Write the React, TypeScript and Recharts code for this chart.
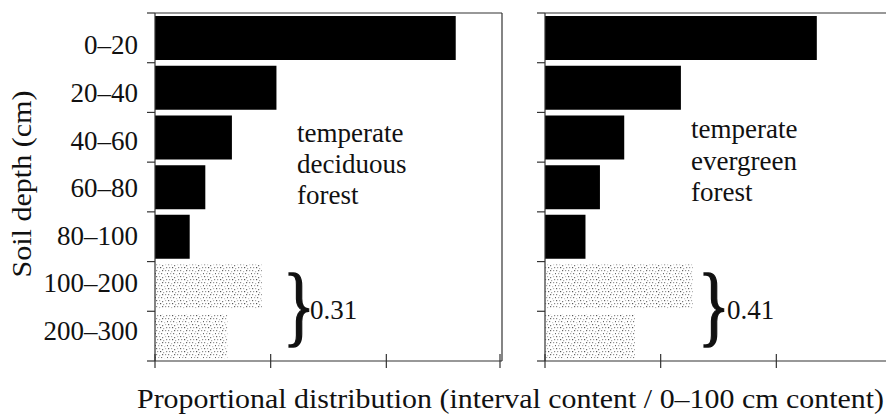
import { BarChart, Bar, Cell, XAxis, YAxis } from 'recharts';

// Soil depth intervals, top to bottom
const depths = ['0–20', '20–40', '40–60', '60–80', '80–100', '100–200', '200–300'];
// Share of the 0–100 cm content held in each interval
const deciduous = [0.52, 0.21, 0.133, 0.087, 0.06, 0.185, 0.125];
const evergreen = [0.47, 0.235, 0.137, 0.095, 0.07, 0.255, 0.155];
const xTicks = [0, 0.2, 0.4, 0.6];
// Intervals from this index down lie below 1 m and are stippled
const SUBSOIL_FROM = 5;

const FONT = '"Liberation Serif", "Times New Roman", serif';
const INK = '#111';
const AXIS = '#333';
const CHART_H = 370;
const PLOT_W = 347;
// the outer axes take 1px each on top/right, the bottom axis takes 9px
const MARGIN = { top: 12, right: 7, bottom: 0, left: 0 };
const BAND = (CHART_H - 13 - 9) / depths.length;

const sum = (xs: number[]) => xs.reduce((a, b) => a + b, 0);
const subsoilShare = (xs: number[]) => sum(xs.slice(SUBSOIL_FROM)).toFixed(2);

// hand-placed stipple dots for the sub-metre intervals
const STIPPLE = [
  [0, 0, '#666'], [3, 0, '#aaa'], [6, 1, '#777'], [9, 0, '#bbb'],
  [1, 3, '#999'], [4, 3, '#555'], [7, 4, '#aaa'], [10, 3, '#888'],
  [0, 6, '#888'], [3, 7, '#bbb'], [6, 6, '#666'], [9, 6, '#999'],
  [2, 9, '#aaa'], [5, 9, '#777'], [8, 10, '#ccc'], [11, 9, '#666'],
] as const;

function DepthTick(props: any) {
  const { x, y, payload, index, showLabel } = props;
  const half = BAND / 2;
  const last = index === depths.length - 1;
  return (
    <g>
      <line x1={x - 8} x2={x} y1={y - half} y2={y - half} stroke={AXIS} strokeWidth={1.2} />
      {last && <line x1={x - 8} x2={x} y1={y + half} y2={y + half} stroke={AXIS} strokeWidth={1.2} />}
      {showLabel && (
        // labels sit on a slightly tighter pitch than the bands
        <text x={x - 17} y={y + 9 + 7.5 - index * 2.1} textAnchor="end" fontSize={27} fontFamily={FONT} fill={INK}>
          {payload.value}
        </text>
      )}
    </g>
  );
}

function CrossTick(props: any) {
  const { x, y } = props;
  return <line x1={x} x2={x} y1={y - 7} y2={y + 7} stroke={AXIS} strokeWidth={1.2} />;
}

function Panel({ values, axisWidth, showLabels }: { values: number[]; axisWidth: number; showLabels: boolean }) {
  const data = depths.map((depth, i) => ({ depth, value: values[i] }));
  return (
    <BarChart
      width={axisWidth + PLOT_W + 1 + MARGIN.right}
      height={CHART_H}
      data={data}
      layout="vertical"
      margin={MARGIN}
      barCategoryGap={3}
    >
      <XAxis
        type="number"
        domain={[0, 0.6]}
        ticks={xTicks}
        height={9}
        tickSize={0}
        tickMargin={0}
        tick={<CrossTick />}
        axisLine={{ stroke: AXIS, strokeWidth: 1.2 }}
        allowDataOverflow
      />
      <XAxis
        xAxisId="top"
        orientation="top"
        type="number"
        domain={[0, 0.6]}
        height={1}
        tick={false}
        tickLine={false}
        axisLine={{ stroke: AXIS, strokeWidth: 1.2 }}
      />
      <YAxis
        type="category"
        dataKey="depth"
        width={axisWidth}
        interval={0}
        tickSize={0}
        tickMargin={0}
        tick={<DepthTick showLabel={showLabels} />}
        axisLine={{ stroke: AXIS, strokeWidth: 1.2 }}
      />
      <YAxis
        yAxisId="right"
        orientation="right"
        type="number"
        domain={[0, 1]}
        width={1}
        tick={false}
        tickLine={false}
        axisLine={{ stroke: AXIS, strokeWidth: 1.2 }}
      />
      <Bar dataKey="value" isAnimationActive={false}>
        {data.map((d, i) => (
          <Cell key={d.depth} fill={i >= SUBSOIL_FROM ? 'url(#stipple)' : '#000'} />
        ))}
      </Bar>
    </BarChart>
  );
}

export default function App() {
  const textStyle = { fontFamily: FONT, fontSize: 27, fill: INK };
  return (
    <div style={{ position: 'absolute', left: 0, top: 0, width: 886, height: 419, overflow: 'hidden', background: '#fff' }}>
      <svg width={0} height={0} style={{ position: 'absolute' }}>
        <defs>
          <pattern id="stipple" width={12} height={12} patternUnits="userSpaceOnUse">
            {STIPPLE.map(([x, y, c], i) => (
              <rect key={i} x={x} y={y} width={1.2} height={1.2} fill={c} />
            ))}
          </pattern>
        </defs>
      </svg>
      <div style={{ position: 'absolute', left: 0, top: 0 }}>
        <Panel values={deciduous} axisWidth={155} showLabels />
      </div>
      <div style={{ position: 'absolute', left: 520, top: 0 }}>
        <Panel values={evergreen} axisWidth={25} showLabels={false} />
      </div>
      <svg width={886} height={419} style={{ position: 'absolute', left: 0, top: 0, pointerEvents: 'none' }}>
        <text transform="translate(31,184) rotate(-90)" textAnchor="middle" {...textStyle} textLength={187} lengthAdjust="spacingAndGlyphs">
          Soil depth (cm)
        </text>
        <text x={137} y={408} {...textStyle} textLength={747} lengthAdjust="spacingAndGlyphs">
          Proportional distribution (interval content / 0–100 cm content)
        </text>

        <text x={297} {...textStyle}>
          <tspan x={297} y={142}>temperate</tspan>
          <tspan x={297} y={173}>deciduous</tspan>
          <tspan x={297} y={204}>forest</tspan>
        </text>
        <text x={691} {...textStyle}>
          <tspan x={691} y={138}>temperate</tspan>
          <tspan x={691} y={170}>evergreen</tspan>
          <tspan x={691} y={201}>forest</tspan>
        </text>

        <text transform="translate(283,335) scale(0.75,1)" fontFamily={FONT} fontSize={88} fill={INK} stroke={INK} strokeWidth={1.5}>
          {'}'}
        </text>
        <text x={310} y={319} {...textStyle}>{subsoilShare(deciduous)}</text>
        <text transform="translate(698,335) scale(0.75,1)" fontFamily={FONT} fontSize={88} fill={INK} stroke={INK} strokeWidth={1.5}>
          {'}'}
        </text>
        <text x={727} y={319} {...textStyle}>{subsoilShare(evergreen)}</text>
      </svg>
    </div>
  );
}
